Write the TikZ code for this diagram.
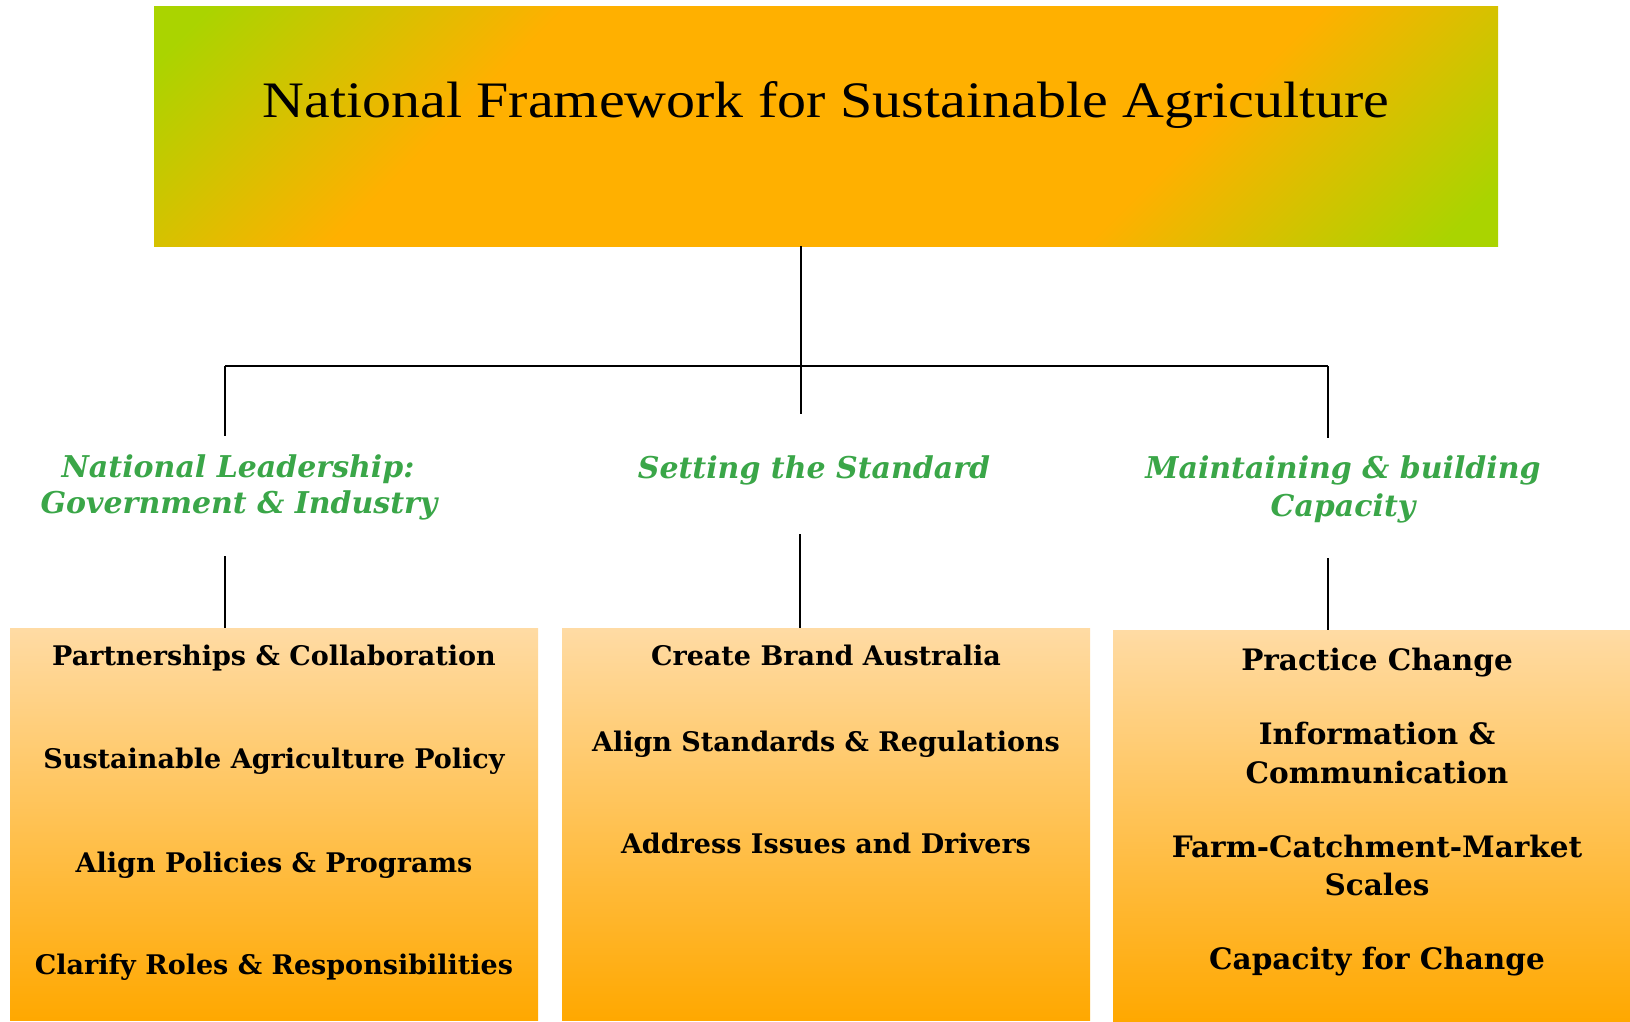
\documentclass[tikz,border=0pt]{standalone}
\usepackage{fontspec}
\setmainfont{DejaVu Serif}
\newfontfamily\titlefont{Liberation Serif}
\usetikzlibrary{calc}
\definecolor{tgreen}{RGB}{170,212,0}
\definecolor{torange}{RGB}{255,176,0}
\definecolor{btop}{RGB}{255,219,164}
\definecolor{bbot}{RGB}{255,168,0}
\definecolor{hgreen}{RGB}{58,166,72}
\pgfdeclarehorizontalshading{titleshade}{100bp}{color(0bp)=(tgreen); color(17bp)=(tgreen); color(33bp)=(torange); color(67bp)=(torange); color(83bp)=(tgreen); color(100bp)=(tgreen)}
\begin{document}
\begin{tikzpicture}[x=1pt,y=-1pt,
  titlebox/.style={draw=none, shading=titleshade, shading angle=-45, minimum width=1344pt, minimum height=240pt, inner sep=0pt},
  itembox/.style={draw=none, top color=btop, bottom color=bbot, anchor=north west, inner sep=0pt},
  item/.style={anchor=base, inner sep=0pt, font=\fontsize{27}{37}\selectfont\bfseries},
  ritem/.style={anchor=base, inner sep=0pt, font=\fontsize{29.5}{38}\selectfont\bfseries},
  head/.style={anchor=base, inner sep=0pt, text=hgreen, font=\fontsize{30}{36}\selectfont\bfseries\itshape},
  conn/.style={line width=1.6pt, black}]
\useasboundingbox (0,0) rectangle (1630,1021);

\node[titlebox] (title) at (826,126) {};
\node[anchor=base, inner sep=0pt] (titletxt) at (826,117) {\resizebox{1127pt}{36pt}{\titlefont National Framework for Sustainable Agriculture}};

\node[itembox, minimum width=528pt, minimum height=392pt] (b1) at (10,628) {};
\node[itembox, minimum width=528pt, minimum height=392pt] (b2) at (562,628) {};
\node[itembox, minimum width=517pt, minimum height=391pt] (b3) at (1113,630) {};

\node[head] (h1a) at (238,477) {National Leadership:};
\node[head] (h1b) at (239,513) {Government \& Industry};
\node[head] (h2) at (814,478) {Setting the Standard};
\node[head] (h3a) at (1343,478) {Maintaining \& building};
\node[head] (h3b) at (1343,516) {Capacity};

\node[item] (l1) at (274,665) {Partnerships \& Collaboration};
\node[item] (l2) at (274,768) {Sustainable Agriculture Policy};
\node[item] (l3) at (274,872) {Align Policies \& Programs};
\node[item] (l4) at (274,974) {Clarify Roles \& Responsibilities};

\node[item] (m1) at (826,665) {Create Brand Australia};
\node[item] (m2) at (826,751) {Align Standards \& Regulations};
\node[item] (m3) at (826,853) {Address Issues and Drivers};

\node[ritem] (r1) at (1377,670) {Practice Change};
\node[ritem] (r2a) at (1377,744) {Information \&};
\node[ritem] (r2b) at (1377,783) {Communication};
\node[ritem] (r3a) at (1377,857) {Farm-Catchment-Market};
\node[ritem] (r3b) at (1377,895) {Scales};
\node[ritem] (r4) at (1377,969) {Capacity for Change};

\coordinate (hub) at (801,366);
\coordinate (j1) at (225,366);
\coordinate (j3) at (1328,366);
\coordinate (d1) at (225,436);
\coordinate (d2) at (801,414);
\coordinate (d3) at (1328,438);
\coordinate (u1) at (225,556);
\coordinate (u2) at (800,534);
\coordinate (u3) at (1328,558);

\draw[conn] (title.south -| hub) -- (hub);
\draw[conn] (j1) -- (j3);
\draw[conn] (j1) -- (d1);
\draw[conn] (hub) -- (d2);
\draw[conn] (j3) -- (d3);
\draw[conn] (u1) -- (u1 |- b1.north);
\draw[conn] (u2) -- (u2 |- b2.north);
\draw[conn] (u3) -- (u3 |- b3.north);
\end{tikzpicture}
\end{document}
